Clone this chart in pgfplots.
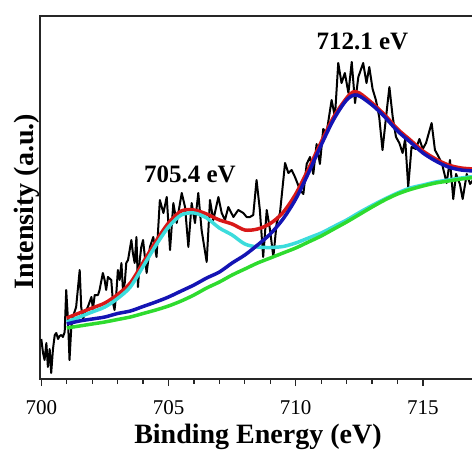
\documentclass[border=0pt]{standalone}
\usepackage{pgfplots}
\pgfplotsset{compat=1.18}
\usepackage{fontspec}
\setmainfont{Liberation Serif}
\definecolor{fitred}{HTML}{D81818}
\definecolor{fitcyan}{HTML}{3CDCDC}
\definecolor{fitblue}{HTML}{1414B4}
\definecolor{fitgreen}{HTML}{2EDB2E}

\begin{document}
\begin{tikzpicture}
\begin{axis}[
  at={(0,0)}, anchor=south west,
  scale only axis, width=446.6pt, height=363pt,
  xmin=699.95, xmax=717.5, ymin=0, ymax=363,
  axis line style={line width=2.2pt, black!85},
  xtick={700,705,710,715}, minor x tick num=4,
  ytick=\empty,
  xtick pos=bottom, tick align=outside,
  major tick length=7pt, minor tick length=4.5pt,
  tick style={line width=1.2pt, black!85},
  /pgf/number format/assume math mode=true,
  /pgf/number format/1000 sep={},
  xticklabel style={font=\fontsize{21}{21}\selectfont, yshift=-11pt},
  xlabel={\bfseries Binding Energy (eV)},
  ylabel={\bfseries Intensity (a.u.)},
  xlabel style={font=\fontsize{28}{28}\selectfont, at={(axis description cs:0.488,0)},
    anchor=base, yshift=-64pt, inner sep=0pt},
  ylabel style={font=\fontsize{28}{28}\selectfont, at={(axis description cs:0,0.5)},
    anchor=south, rotate=0, xshift=-4pt, inner sep=0pt},
]
% measured spectrum
\addplot[black, line width=2pt, line join=round] coordinates {
(700.00,40)(700.07,26)(700.13,19)(700.20,36)(700.26,12)(700.33,30)(700.39,6)
(700.46,30)(700.53,44)(700.59,46)(700.66,40)(700.72,43)(700.79,44)(700.85,42)
(700.92,47)(700.98,89)(701.05,59)(701.11,19)(701.18,52)(701.24,62)(701.37,72)
(701.51,109)(701.57,72)(701.64,59)(701.70,66)(701.83,72)(701.97,82)(702.03,70)
(702.10,84)(702.23,84)(702.29,89)(702.42,106)(702.49,99)(702.55,89)(702.62,102)
(702.75,99)(702.82,76)(702.88,69)(702.95,86)(703.01,109)(703.08,99)(703.15,116)
(703.21,89)(703.28,96)(703.34,116)(703.41,119)(703.54,139)(703.60,126)(703.67,116)
(703.74,142)(703.80,92)(703.87,119)(703.93,132)(704.00,139)(704.14,106)(704.27,132)
(704.40,142)(704.53,122)(704.66,179)(704.80,166)(704.93,182)(705.06,129)(705.19,176)
(705.32,156)(705.52,186)(705.65,172)(705.78,132)(705.91,176)(706.04,156)(706.17,186)
(706.30,149)(706.50,117)(706.63,179)(706.76,159)(706.96,182)(707.09,166)(707.22,159)
(707.35,172)(707.55,162)(707.74,169)(707.94,166)(708.07,162)(708.20,162)(708.33,164)
(708.46,199)(708.59,169)(708.72,122)(708.86,169)(708.99,149)(709.12,122)(709.25,156)
(709.38,166)(709.58,216)(709.71,206)(709.84,209)(709.97,202)(710.17,189)(710.30,185)
(710.43,215)(710.56,222)(710.69,205)(710.82,235)(710.95,215)(711.08,250)(711.21,246)
(711.41,279)(711.54,262)(711.67,316)(711.80,296)(711.93,306)(712.07,286)(712.20,317)
(712.33,276)(712.46,302)(712.65,316)(712.78,296)(712.89,312)(713.02,290)(713.15,279)
(713.28,262)(713.41,229)(713.54,260)(713.68,292)(713.81,262)(713.94,242)(714.07,236)
(714.20,226)(714.30,240)(714.42,192)(714.55,232)(714.72,230)(714.86,240)(714.99,230)
(715.12,236)(715.34,256)(715.47,229)(715.62,222)(715.75,215)(715.93,196)(716.06,219)
(716.19,180)(716.30,205)(716.45,195)(716.56,180)(716.72,205)(716.85,195)(717.00,200)
};
% envelope
\addplot[fitred, line width=3.5pt, smooth] coordinates {
(701.0,61)(701.5,66)(702.0,71)(702.5,76)(703.0,84.5)(703.5,96)(704.0,116.5)
(704.5,137.5)(705.0,156)(705.5,168)(706.0,169)(706.5,165)(707.0,159)(707.5,155)
(708.0,149)(708.5,150)(709.0,155.5)(709.5,166.5)(710.0,185)(710.5,210)(711.0,237)
(711.5,262.5)(712.0,281)(712.25,287)(712.5,286)(713.0,276)(713.5,264)(714.0,250)
(714.5,239)(715.0,228)(715.5,220)(716.0,214)(716.5,211)(717.0,210)
};
% peak 705.4 eV
\addplot[fitcyan, line width=3.5pt, smooth] coordinates {
(701.0,57)(701.5,62)(702.0,67)(702.5,72)(703.0,80.5)(703.5,92)(704.0,112.5)
(704.5,133.5)(705.0,152)(705.5,164)(706.0,166)(706.5,161)(707.0,151)(707.5,144)
(708.0,135)(708.5,132)(709.0,131.5)(709.5,132.5)(710.0,136)(710.5,141)(711.0,146)
(711.5,152.5)(712.0,159)(712.5,166.5)(713.0,173.5)(713.5,180)(714.0,186)(714.5,191)
(715.0,194)(715.5,197)(716.0,199)(716.5,201)(717.0,202.5)
};
% peak 712.1 eV
\addplot[fitblue, line width=3.5pt, smooth] coordinates {
(701.0,55)(701.5,58)(702.0,60)(702.5,62)(703.0,65.5)(703.5,68)(704.0,72.5)
(704.5,77)(705.0,82)(705.5,88)(706.0,94)(706.5,101)(707.0,107)(707.5,116)
(708.0,124)(708.5,134)(709.0,145)(709.5,160)(710.0,180)(710.5,206)(711.0,234)
(711.5,260)(712.0,279)(712.4,284)(713.0,274)(713.5,262)(714.0,248)(714.5,237)
(715.0,226)(715.5,218)(716.0,212)(716.5,209)(717.0,208)
};
% background
\addplot[fitgreen, line width=3.5pt, smooth] coordinates {
(701.0,51)(701.5,53)(702.0,55)(702.5,57)(703.0,59.5)(703.5,62)(704.0,65.5)
(704.5,69)(705.0,73)(705.5,78)(706.0,84)(706.5,91)(707.0,97)(707.5,104)
(708.0,110)(708.5,116)(709.0,121)(709.5,126)(710.0,131)(710.5,137)(711.0,143)
(711.5,150)(712.0,157)(712.5,164.5)(713.0,172)(713.5,179)(714.0,185)(714.5,189.5)
(715.0,193)(715.5,196)(716.0,198)(716.5,200)(717.0,201.5)
};
\node[font=\fontsize{25}{25}\selectfont\bfseries] at (axis cs:705.84,205) {705.4 eV};
\node[font=\fontsize{25}{25}\selectfont\bfseries] at (axis cs:712.62,338) {712.1 eV};
\end{axis}
\pgfresetboundingbox
\useasboundingbox (-40pt,-72pt) rectangle (432pt,379pt);
\end{tikzpicture}
\end{document}
